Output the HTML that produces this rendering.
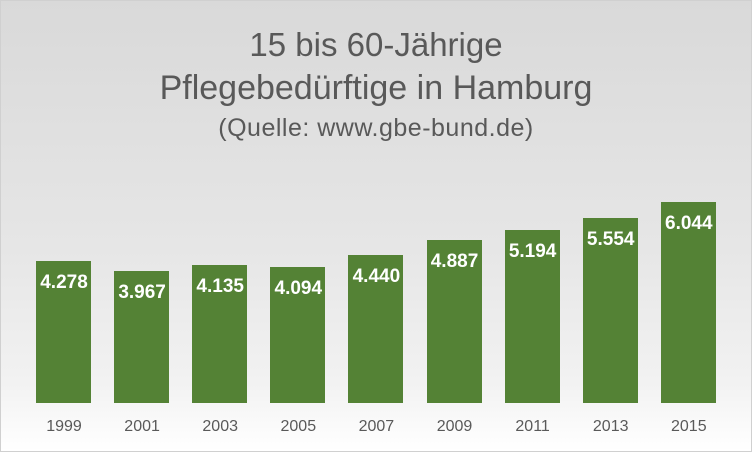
<!DOCTYPE html>
<html><head><style>
body{margin:0}
#c{position:relative;width:750px;height:450px;border:1px solid #d0d0d0;background:linear-gradient(#d9d9d9 0%,#e6e6e6 55%,#f2f2f2 85%,#fff 100%);overflow:hidden;font-family:"Liberation Sans",sans-serif}
.t{position:absolute;left:0;width:750px;text-align:center;color:#595959}
.b{position:absolute;width:55px;background:#548235;bottom:48px}
.v{position:absolute;width:80px;margin-left:-12px;text-align:center;color:#fff;font-weight:bold;font-size:19px}
.x{position:absolute;top:417px;width:80px;margin-left:-12px;text-align:center;color:#595959;font-size:16px}
</style></head><body><div id="c">
<div class="t" style="top:25px;font-size:33px">15 bis 60-Jährige</div>
<div class="t" style="top:68px;font-size:34px">Pflegebedürftige in Hamburg</div>
<div class="t" style="top:113px;font-size:25px;letter-spacing:0.5px">(Quelle: www.gbe-bund.de)</div>
<div id="bars"></div>
</div>
<script>
var d=[["1999",4278],["2001",3967],["2003",4135],["2005",4094],["2007",4440],["2009",4887],["2011",5194],["2013",5554],["2015",6044]];
var c=document.getElementById('c'),h='';
d.forEach(function(e,i){var x=35+78.1*i,hh=e[1]*0.03326,top=402-hh;
h+='<div class="b" style="left:'+x+'px;height:'+hh+'px"></div>';
h+='<div class="v" style="left:'+x+'px;top:'+(top+11)+'px">'+e[1].toString().replace(/(\d)(\d{3})$/,'$1.$2')+'</div>';
h+='<div class="x" style="left:'+x+'px">'+e[0]+'</div>';});
c.insertAdjacentHTML('beforeend',h);
</script></body></html>
